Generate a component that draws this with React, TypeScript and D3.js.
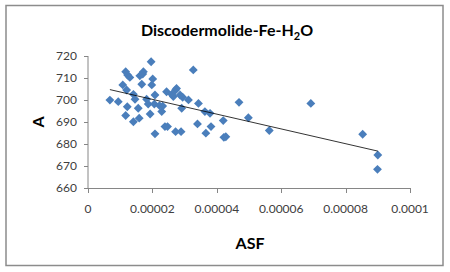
import React from "react";
import * as d3 from "d3";

const asf: number[] = [
  0.68e-5, 0.94e-5, 1.08e-5, 1.17e-5, 1.23e-5, 1.30e-5, 1.20e-5, 1.22e-5, 1.17e-5, 1.41e-5,
  1.41e-5, 1.46e-5, 1.56e-5, 1.59e-5, 1.61e-5, 1.67e-5, 1.72e-5, 1.70e-5, 1.82e-5, 1.87e-5,
  1.96e-5, 1.98e-5, 2.01e-5, 1.93e-5, 2.08e-5, 2.06e-5, 2.08e-5, 2.22e-5, 2.29e-5, 2.32e-5,
  2.39e-5, 2.44e-5, 2.47e-5, 2.60e-5, 2.65e-5, 2.72e-5, 2.75e-5, 2.86e-5, 2.94e-5, 2.91e-5,
  2.72e-5, 2.89e-5, 3.12e-5, 3.27e-5, 3.43e-5, 3.40e-5, 3.63e-5, 3.79e-5, 3.66e-5, 3.82e-5,
  4.20e-5, 4.22e-5, 4.28e-5, 4.69e-5, 4.98e-5, 5.63e-5, 6.92e-5, 8.53e-5, 9.00e-5, 8.99e-5,
];
const aValues: number[] = [
  700.0, 699.3, 706.9, 712.9, 711.4, 710.3, 704.6, 697.0, 693.0, 690.2,
  702.6, 700.4, 696.3, 691.8, 711.0, 707.2, 712.9, 711.8, 700.4, 698.2,
  717.4, 706.9, 709.6, 693.7, 702.3, 698.2, 684.7, 697.5, 694.8, 697.3,
  688.0, 703.8, 688.0, 702.6, 701.6, 704.6, 705.3, 702.3, 701.3, 696.3,
  685.7, 685.7, 700.1, 713.7, 698.5, 689.2, 694.8, 694.0, 685.0, 688.0,
  690.7, 683.1, 683.4, 699.0, 692.0, 686.2, 698.5, 684.5, 675.1, 668.6,
];
const xTicks: number[] = [0, 0.00002, 0.00004, 0.00006, 0.00008, 0.0001];
const xTickLabels: string[] = ["0", "0.00002", "0.00004", "0.00006", "0.00008", "0.0001"];
const yTicks: number[] = [660, 670, 680, 690, 700, 710, 720];

const FONT = "Lato, 'Open Sans', sans-serif";

export default function App() {
  const x = d3.scaleLinear().domain([0, 0.0001]).range([88, 410]);
  const y = d3.scaleLinear().domain([660, 720]).range([188.3, 56]);

  // least-squares trendline
  const n = asf.length;
  const mx = d3.mean(asf)!;
  const my = d3.mean(aValues)!;
  let sxy = 0, sxx = 0;
  for (let i = 0; i < n; i++) {
    sxy += (asf[i] - mx) * (aValues[i] - my);
    sxx += (asf[i] - mx) ** 2;
  }
  const slope = sxy / sxx;
  const intercept = my - slope * mx;
  const [x0, x1] = d3.extent(asf) as [number, number];
  const line = d3.line<number>().x((d) => x(d)).y((d) => y(intercept + slope * d));

  const diamond = d3.symbol().type(d3.symbolDiamond2).size(50)()!;
  const axisColor = "#868686";

  return (
    <svg width={450} height={272} style={{ position: "absolute", left: 0, top: 0, background: "#fff" }}>
      <rect x={6} y={5.5} width={437} height={260} fill="#fff" stroke="#8c8c8c" strokeWidth={1.5} />
      <text x={227} y={36} textAnchor="middle" fontFamily={FONT} fontWeight="bold" fontSize={16} fill="#000">
        Discodermolide-Fe-H<tspan fontSize={11} dy={4}>2</tspan><tspan dy={-4}>O</tspan>
      </text>
      {/* y axis */}
      <line x1={88} x2={88} y1={y(720)} y2={y(660)} stroke={axisColor} />
      {yTicks.map((t) => (
        <g key={t}>
          <line x1={84} x2={88} y1={Math.round(y(t)) + 0.5} y2={Math.round(y(t)) + 0.5} stroke={axisColor} />
          <text x={77} y={y(t) + 4} textAnchor="end" fontFamily={FONT} fontSize={12} fill="#404040">{t}</text>
        </g>
      ))}
      {/* x axis */}
      <line x1={88} x2={410} y1={188.5} y2={188.5} stroke={axisColor} />
      {xTicks.map((t, i) => (
        <g key={t}>
          <line x1={Math.round(x(t)) + 0.5} x2={Math.round(x(t)) + 0.5} y1={188} y2={193} stroke={axisColor} />
          <text x={x(t)} y={213} textAnchor="middle" fontFamily={FONT} fontSize={12} fill="#404040">{xTickLabels[i]}</text>
        </g>
      ))}
      <text x={250} y={249} textAnchor="middle" fontFamily={FONT} fontWeight="bold" fontSize={16} fill="#000">ASF</text>
      <text transform={`translate(44,122) rotate(-90)`} textAnchor="middle" fontFamily={FONT} fontWeight="bold" fontSize={16} fill="#000">A</text>
      {asf.map((d, i) => (
        <path key={i} d={diamond} transform={`translate(${x(d)},${y(aValues[i])})`} fill="#4A7EBB" />
      ))}
      <path d={line([x0, x1])!} stroke="#000" strokeWidth={0.8} fill="none" />
    </svg>
  );
}
